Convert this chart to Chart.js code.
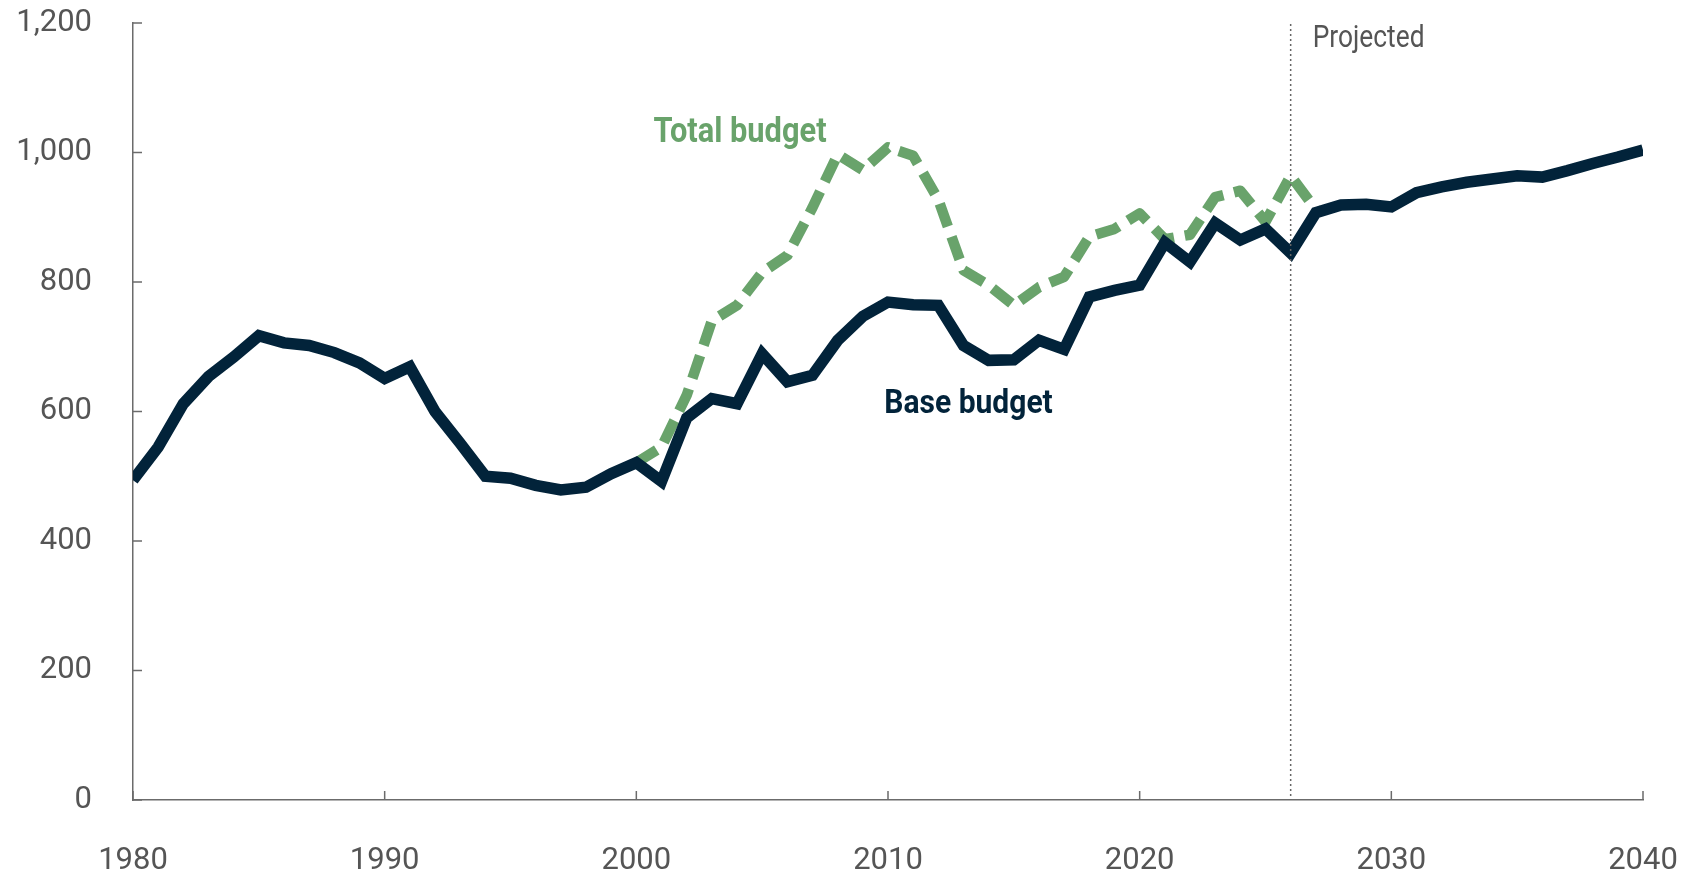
<!DOCTYPE html>
<html>
<head>
<meta charset="utf-8">
<title>Base and total budget, 1980–2040</title>
<script src="https://cdn.jsdelivr.net/npm/chart.js@4.4.1/dist/chart.umd.min.js"></script>
<style>
  html, body { margin: 0; padding: 0; background: #ffffff; }
  canvas { display: block; }
</style>
</head>
<body>
<canvas id="chart" width="1684" height="869"></canvas>
<script>
// Fiscal years shown on the horizontal axis
const years = [
  1980, 1981, 1982, 1983, 1984, 1985, 1986, 1987, 1988, 1989,
  1990, 1991, 1992, 1993, 1994, 1995, 1996, 1997, 1998, 1999,
  2000, 2001, 2002, 2003, 2004, 2005, 2006, 2007, 2008, 2009,
  2010, 2011, 2012, 2013, 2014, 2015, 2016, 2017, 2018, 2019,
  2020, 2021, 2022, 2023, 2024, 2025, 2026, 2027, 2028, 2029,
  2030, 2031, 2032, 2033, 2034, 2035, 2036, 2037, 2038, 2039,
  2040
];

// Base budget, one value per year above
const baseBudget = [
  494, 545, 612, 654, 684, 717, 706, 702, 691, 675,
  651, 669, 600, 551, 500, 497, 486, 479, 483, 504,
  521, 492, 590, 620, 612, 689, 646, 656, 710, 747,
  769, 765, 764, 702, 679, 680, 710, 696, 777, 787,
  795, 861, 831, 891, 865, 882, 845, 907, 919, 920,
  916, 938, 947, 954, 959, 964, 962, 972, 983, 993,
  1004
];

// Total budget (base plus supplemental funding), 2000 through 2027
const totalYears = [
  2000, 2001, 2002, 2003, 2004, 2005, 2006, 2007, 2008, 2009,
  2010, 2011, 2012, 2013, 2014, 2015, 2016, 2017, 2018, 2019,
  2020, 2021, 2022, 2023, 2024, 2025, 2026, 2027
];
const totalBudget = [
  521, 545, 625, 740, 764, 815, 841, 915, 997, 973,
  1008, 995, 927, 818, 795, 764, 792, 808, 870, 882,
  906, 866, 873, 931, 941, 893, 964, 912
];

// Axis ticks
const yTicks = [0, 200, 400, 600, 800, 1000, 1200];
const xTicks = [1980, 1990, 2000, 2010, 2020, 2030, 2040];

// First projected year
const projectionStart = 2026;

const NAVY = '#02233a';
const GREEN = '#69a36b';
const AXIS = '#6b6b6b';
const TEXT = '#555555';

Chart.defaults.font.family = 'Roboto, "Noto Sans", sans-serif';

// Condensed label drawn straight onto the canvas
function drawLabel(ctx, text, x, y, align, font, color, squeeze) {
  ctx.save();
  ctx.translate(x, y);
  ctx.scale(squeeze, 1);
  ctx.font = font;
  ctx.fillStyle = color;
  ctx.textAlign = align;
  ctx.textBaseline = 'alphabetic';
  ctx.fillText(text, 0, 0);
  ctx.restore();
}

const decorations = {
  id: 'decorations',
  afterDatasetsDraw(chart) {
    const { ctx, chartArea: a, scales: { x, y } } = chart;
    ctx.save();

    // Inward tick marks on both axes
    ctx.strokeStyle = AXIS;
    ctx.lineWidth = 1.5;
    ctx.beginPath();
    yTicks.forEach(v => {
      const py = y.getPixelForValue(v);
      ctx.moveTo(a.left, py);
      ctx.lineTo(a.left + 9, py);
    });
    xTicks.forEach(v => {
      const px = x.getPixelForValue(v);
      ctx.moveTo(px, a.bottom);
      ctx.lineTo(px, a.bottom - 9);
    });
    ctx.stroke();

    // Dotted divider where projections begin
    const divX = x.getPixelForValue(projectionStart);
    ctx.strokeStyle = '#666666';
    ctx.lineWidth = 1.5;
    ctx.setLineDash([2, 3]);
    ctx.beginPath();
    ctx.moveTo(divX, a.top + 1);
    ctx.lineTo(divX, a.bottom);
    ctx.stroke();
    ctx.setLineDash([]);
    ctx.restore();

    // Series and section labels
    drawLabel(ctx, 'Projected', divX + 22, y.getPixelForValue(1163),
      'left', '400 31px Roboto', TEXT, 0.85);
    drawLabel(ctx, 'Total budget', x.getPixelForValue(2004.12), y.getPixelForValue(1016),
      'center', '700 35px Roboto', GREEN, 0.88);
    drawLabel(ctx, 'Base budget', x.getPixelForValue(2013.2), y.getPixelForValue(598),
      'center', '700 33px Roboto', NAVY, 0.91);
  }
};

const ctx = document.getElementById('chart').getContext('2d');

new Chart(ctx, {
  type: 'line',
  data: {
    datasets: [
      {
        label: 'Base budget',
        data: years.map((yr, i) => ({ x: yr, y: baseBudget[i] })),
        borderColor: NAVY,
        borderWidth: 11.5,
        borderJoinStyle: 'miter',
        borderCapStyle: 'butt',
        pointRadius: 0,
        tension: 0,
        fill: false
      },
      {
        label: 'Total budget',
        data: totalYears.map((yr, i) => ({ x: yr, y: totalBudget[i] })),
        borderColor: GREEN,
        borderWidth: 10.5,
        borderDash: [24, 11],
        borderJoinStyle: 'round',
        borderCapStyle: 'butt',
        pointRadius: 0,
        tension: 0,
        fill: false
      }
    ]
  },
  options: {
    responsive: false,
    animation: false,
    devicePixelRatio: 1,
    layout: { padding: { top: 23, right: 41, left: 0, bottom: 0 } },
    plugins: {
      legend: { display: false },
      tooltip: { enabled: false }
    },
    scales: {
      x: {
        type: 'linear',
        min: 1980,
        max: 2040,
        afterFit(scale) {
          scale.height = 69;
          scale.paddingLeft = 0;
          scale.paddingRight = 0;
        },
        grid: { display: false, drawTicks: false },
        border: { display: true, color: AXIS, width: 1.5 },
        ticks: {
          stepSize: 10,
          padding: 43,
          color: TEXT,
          font: { size: 31 },
          maxRotation: 0,
          callback: v => String(v)
        }
      },
      y: {
        type: 'linear',
        min: 0,
        max: 1200,
        afterFit(scale) {
          scale.width = 133;
          scale.paddingTop = 0;
          scale.paddingBottom = 0;
        },
        grid: { display: false, drawTicks: false },
        border: { display: true, color: AXIS, width: 1.5 },
        ticks: {
          stepSize: 200,
          padding: 41,
          color: TEXT,
          font: { size: 31 },
          callback: v => v.toLocaleString('en-US')
        }
      }
    }
  },
  plugins: [decorations]
});
</script>
</body>
</html>
